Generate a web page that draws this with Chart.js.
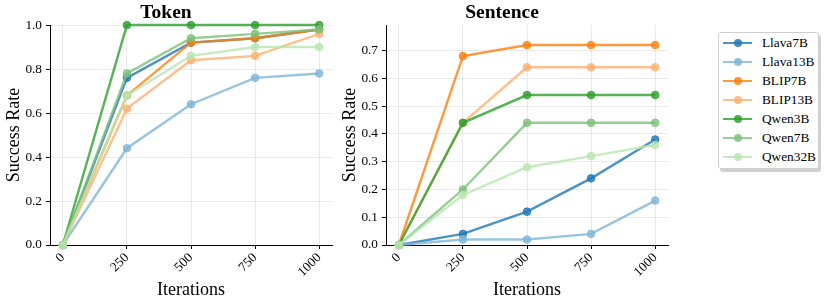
<!DOCTYPE html>
<html>
<head>
<meta charset="utf-8">
<script src="https://cdn.jsdelivr.net/npm/chart.js@4/dist/chart.umd.min.js"></script>
<style>
  html, body { margin: 0; padding: 0; background: #fff; }
  #wrap { position: relative; width: 827px; height: 305px; overflow: hidden; background: #fff; }
  .cv { position: absolute; top: 0; width: 340px; height: 305px; }
  #legend {
    position: absolute; left: 718px; top: 32px; width: 101px; height: 137px;
    border: 1px solid #d0d0d0; border-radius: 3px; background: #fff;
    box-shadow: 2px 3px 0 rgba(0,0,0,0.18);
    font-family: 'Liberation Serif', 'Times New Roman', serif; font-size: 13.3px; color: #000;
    box-sizing: border-box;
  }
  .row { position: absolute; left: 0; height: 19px; width: 100%; }
  .ln { position: absolute; left: 4px; top: 8px; width: 29px; height: 2.5px; }
  .dot { position: absolute; left: 14.5px; top: 5.5px; width: 8px; height: 8px; border-radius: 50%; }
  .tx { position: absolute; left: 43px; top: 1px; white-space: nowrap; }
</style>
</head>
<body>
<div id="wrap">
  <canvas id="c1" class="cv" style="left:0px" width="340" height="305"></canvas>
  <canvas id="c2" class="cv" style="left:336px" width="340" height="305"></canvas>
  <div id="legend"></div>
</div>
<script>
// ---- data ----
const iterations = [0, 250, 500, 750, 1000];
const models = ['Llava7B', 'Llava13B', 'BLIP7B', 'BLIP13B', 'Qwen3B', 'Qwen7B', 'Qwen32B'];

const tokenLlava7B  = [0, 0.76, 0.92, 0.94, 0.98];
const tokenLlava13B = [0, 0.44, 0.64, 0.76, 0.78];
const tokenBLIP7B   = [0, 0.68, 0.92, 0.94, 0.98];
const tokenBLIP13B  = [0, 0.62, 0.84, 0.86, 0.96];
const tokenQwen3B   = [0, 1.00, 1.00, 1.00, 1.00];
const tokenQwen7B   = [0, 0.78, 0.94, 0.96, 0.98];
const tokenQwen32B  = [0, 0.68, 0.86, 0.90, 0.90];

const sentLlava7B  = [0, 0.04, 0.12, 0.24, 0.38];
const sentLlava13B = [0, 0.02, 0.02, 0.04, 0.16];
const sentBLIP7B   = [0, 0.68, 0.72, 0.72, 0.72];
const sentBLIP13B  = [0, 0.44, 0.64, 0.64, 0.64];
const sentQwen3B   = [0, 0.44, 0.54, 0.54, 0.54];
const sentQwen7B   = [0, 0.20, 0.44, 0.44, 0.44];
const sentQwen32B  = [0, 0.18, 0.28, 0.32, 0.36];

const xTickLabels = ['0', '250', '500', '750', '1000'];
const tokenYTicks = [0, 0.2, 0.4, 0.6, 0.8, 1.0];
const sentYTicks  = [0, 0.1, 0.2, 0.3, 0.4, 0.5, 0.6, 0.7];

// ---- styles ----
const colors = ['#1f77b4', '#7fb5d8', '#ff7f0e', '#ffb070', '#2ca02c', '#7cc27c', '#b9e6b0'];
const FONT = "'Liberation Serif', 'Times New Roman', serif";

function rgba(hex, a) {
  const n = parseInt(hex.slice(1), 16);
  return `rgba(${(n >> 16) & 255},${(n >> 8) & 255},${n & 255},${a})`;
}

function makeDatasets(seriesList) {
  return seriesList.map((vals, i) => ({
    label: models[i],
    data: vals.map((v, j) => ({ x: iterations[j], y: v })),
    borderColor: rgba(colors[i], 0.8),
    backgroundColor: rgba(colors[i], 0.8),
    pointBackgroundColor: rgba(colors[i], 0.8),
    pointBorderColor: rgba(colors[i], 0.8),
    borderWidth: 2.4,
    pointRadius: 3.8,
    pointBorderWidth: 1,
    tension: 0,
    clip: false,
    order: seriesList.length - i
  }));
}

function makeChart(id, title, seriesList, yMax, yTicks) {
  return new Chart(document.getElementById(id), {
    type: 'line',
    data: { datasets: makeDatasets(seriesList) },
    options: {
      responsive: false,
      animation: false,
      devicePixelRatio: 1,
      layout: { padding: { left: 0, right: 8, top: 0, bottom: 0 } },
      plugins: {
        legend: { display: false },
        tooltip: { enabled: false },
        title: {
          display: true, text: title, color: '#000',
          font: { family: FONT, size: 19.5, weight: 'bold', lineHeight: 1.1 },
          padding: { top: 2, bottom: 1.6 }
        }
      },
      scales: {
        x: {
          type: 'linear', min: -50, max: 1050,
          afterBuildTicks: s => { s.ticks = iterations.map(v => ({ value: v })); },
          afterFit: s => { s.height = 60; },
          ticks: {
            color: '#000', font: { family: FONT, size: 13.3 },
            minRotation: 45, maxRotation: 45, padding: 1,
            callback: (v) => xTickLabels[iterations.indexOf(v)]
          },
          grid: {
            color: '#e3e3e3', lineWidth: 0.8, borderDash: [3, 2],
            drawTicks: true, tickLength: 4, tickColor: '#000', tickWidth: 1, tickBorderDash: []
          },
          border: { display: true, color: '#000', width: 1 },
          title: {
            display: true, text: 'Iterations', color: '#000',
            font: { family: FONT, size: 18 }, padding: { top: 0, bottom: 4 }
          }
        },
        y: {
          type: 'linear', min: 0, max: yMax,
          afterBuildTicks: s => { s.ticks = yTicks.map(v => ({ value: v })); },
          afterFit: s => { s.width = 50; },
          ticks: {
            color: '#000', font: { family: FONT, size: 13.3 }, padding: 4,
            callback: v => v.toFixed(1)
          },
          grid: {
            color: '#e3e3e3', lineWidth: 0.8, borderDash: [3, 2],
            drawTicks: true, tickLength: 4, tickColor: '#000', tickWidth: 1, tickBorderDash: []
          },
          border: { display: true, color: '#000', width: 1 },
          title: {
            display: true, text: 'Success Rate', color: '#000',
            font: { family: FONT, size: 18 }, padding: { top: 3, bottom: 0 }
          }
        }
      }
    }
  });
}

makeChart('c1', 'Token',
  [tokenLlava7B, tokenLlava13B, tokenBLIP7B, tokenBLIP13B, tokenQwen3B, tokenQwen7B, tokenQwen32B],
  1.0, tokenYTicks);
makeChart('c2', 'Sentence',
  [sentLlava7B, sentLlava13B, sentBLIP7B, sentBLIP13B, sentQwen3B, sentQwen7B, sentQwen32B],
  0.792, sentYTicks);

// ---- legend ----
const lg = document.getElementById('legend');
models.forEach((m, i) => {
  const row = document.createElement('div');
  row.className = 'row';
  row.style.top = (0.5 + i * 19) + 'px';
  const ln = document.createElement('div'); ln.className = 'ln'; ln.style.background = rgba(colors[i], 0.8);
  const dot = document.createElement('div'); dot.className = 'dot'; dot.style.background = rgba(colors[i], 0.85);
  const tx = document.createElement('div'); tx.className = 'tx'; tx.textContent = m;
  row.appendChild(ln); row.appendChild(dot); row.appendChild(tx);
  lg.appendChild(row);
});
</script>
</body>
</html>
